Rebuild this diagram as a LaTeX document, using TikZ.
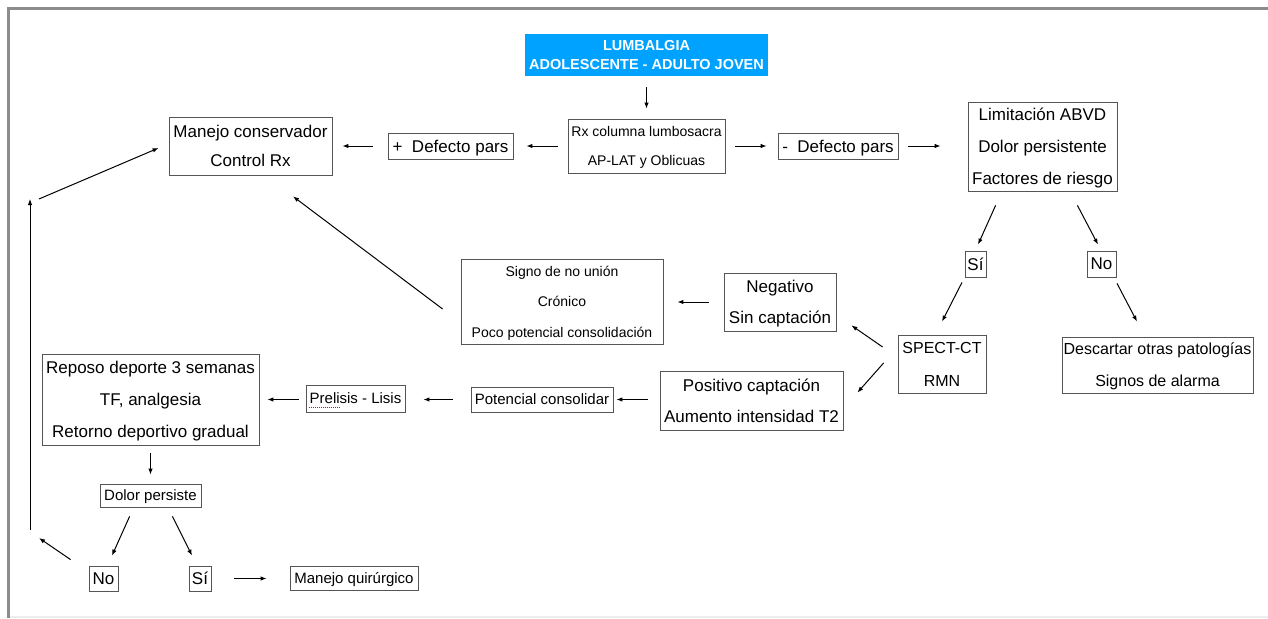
\documentclass[tikz,border=0pt]{standalone}
\usepackage{fontspec}
\setmainfont{Liberation Sans}
\usetikzlibrary{arrows.meta,calc}
\definecolor{titleblue}{RGB}{0,162,255}
\definecolor{boxgray}{RGB}{85,85,85}
\definecolor{framegray}{RGB}{140,140,140}
\newcommand{\fsz}[2]{\fontsize{#1}{#2}\selectfont}
\begin{document}
\begin{tikzpicture}[x=1pt,y=-1pt,
  box/.style={draw=boxgray, line width=0.8pt, inner sep=0pt, align=center, text=black, text depth=0pt},
  wh/.style 2 args={minimum width=#1pt, minimum height=#2pt},
  arr/.style={-{Latex[length=6pt,width=4.5pt]}, line width=1pt},
  title/.style={fill=titleblue, inner sep=0pt, align=center, text=white, text depth=0pt, font=\bfseries\fsz{14.5}{19}}
]
\useasboundingbox (0,0) rectangle (1268,618);
\fill[white] (0,0) rectangle (1268,618);
% frame
\draw[line width=1.5pt, black!7] (8,617) -- (1268,617);
\draw[line width=2.2pt, framegray] (8.5,618) -- (8.5,8.5) -- (1268,8.5);

% nodes
\node[title, wh={243}{42}] (title) at (646.5,55) {LUMBALGIA\\ADOLESCENTE - ADULTO JOVEN};
\node[box, wh={157}{54}, font=\fsz{14}{29}] (rx) at (646.5,146) {Rx columna lumbosacra\\AP-LAT y Oblicuas};
\node[box, wh={125}{26}, font=\fsz{17}{20}] (pdef) at (450.5,146) {+\ \ Defecto pars};
\node[box, wh={120}{26}, font=\fsz{17}{20}] (mdef) at (838,146) {-\ \ Defecto pars};
\node[box, wh={163}{58}, font=\fsz{17}{29}] (manejo) at (250.5,146) {Manejo conservador\\Control Rx};
\node[box, wh={149}{89}, font=\fsz{17}{32}] (lim) at (1042.5,146.5) {Limitación ABVD\\Dolor persistente\\Factores de riesgo};
\node[box, wh={21}{26}, font=\fsz{17}{20}] (si1) at (975.5,264) {Sí};
\node[box, wh={29}{26}, font=\fsz{17}{20}] (no1) at (1101.5,264) {No};
\node[box, wh={88}{58}, font=\fsz{16}{33}] (spect) at (942,364) {SPECT-CT\\RMN};
\node[box, wh={191}{56}, font=\fsz{16}{32}] (desc) at (1157.5,365) {Descartar otras patologías\\Signos de alarma};
\node[box, wh={112}{58}, font=\fsz{17}{31}] (neg) at (780,302) {Negativo\\Sin captación};
\node[box, wh={202}{85}, font=\fsz{14}{30.5}] (signo) at (562,301.5) {Signo de no unión\\Crónico\\Poco potencial consolidación};
\node[box, wh={183}{59}, font=\fsz{17}{31}] (pos) at (751.5,400.5) {Positivo captación\\Aumento intensidad T2};
\node[box, wh={142}{25}, font=\fsz{15}{18}] (potc) at (542,399.5) {Potencial consolidar};
\node[box, wh={99}{27}, font=\fsz{15}{18}] (prel) at (355.5,398.5) {Prelisis - Lisis};
\node[box, wh={217}{91}, font=\fsz{17}{32}] (reposo) at (150.5,399.5) {Reposo deporte 3 semanas\\TF, analgesia\\Retorno deportivo gradual};
\node[box, wh={101}{23}, font=\fsz{15}{18}] (dolor) at (150.5,495.5) {Dolor persiste};
\node[box, wh={29}{25}, font=\fsz{17}{20}] (no2) at (103.5,578.5) {No};
\node[box, wh={22}{25}, font=\fsz{17}{20}] (si2) at (200,578.5) {Sí};
\node[box, wh={128}{24}, font=\fsz{15}{18}] (mq) at (354,578) {Manejo quirúrgico};

% spell-check underline
\draw[red, line width=0.7pt, dash pattern=on 1pt off 1pt] ($(prel.south west)+(3,-5)$) -- ++(32,0);

% free coordinates
\coordinate (c1) at (39,538);
\coordinate (c2) at (30,530);
\coordinate (c3) at (30,199);
\coordinate (c4) at (39,199);

% connectors
\draw[arr, shorten <=11pt, shorten >=10pt] (title.south) -- (rx.north);
\draw[arr, shorten <=10pt, shorten >=13pt] (rx.west) -- (pdef.east);
\draw[arr, shorten <=15pt, shorten >=10pt] (pdef.west) -- (manejo.east |- pdef.west);
\draw[arr, shorten <=10pt, shorten >=11pt] (rx.east) -- (mdef.west);
\draw[arr, shorten <=10pt, shorten >=27pt] (mdef.east) -- (lim.west |- mdef.east);
\draw[arr] ($(lim.south west)+(28,14)$) -- ($(si1.north)+(2.5,-6)$);
\draw[arr] ($(lim.south east)+(-40,14)$) -- ($(no1.north)+(-3.5,-6)$);
\draw[arr] ($(si1.south)+(-13.5,5)$) -- ($(spect.north)+(0,-13)$);
\draw[arr] ($(no1.south)+(15.5,6)$) -- ($(desc.north)+(-20.5,-15)$);
\draw[arr] ($(spect.west)+(-15,-17)$) -- ($(neg.south east)+(15,-6)$);
\draw[arr] ($(spect.west)+(-14,-1)$) -- ($(pos.north east)+(14,22)$);
\draw[arr, shorten <=15pt, shorten >=14pt] (neg.west) -- (signo.east |- neg.west);
\draw[arr] ($(signo.west)+(-18,7.5)$) -- ($(manejo.south)+(42.5,21)$);
\draw[arr, shorten <=12pt, shorten >=3pt] (pos.west |- potc.east) -- (potc.east);
\draw[arr, shorten <=18pt, shorten >=18pt] (potc.west) -- (prel.east |- potc.west);
\draw[arr, shorten <=7pt, shorten >=8pt] (prel.west |- potc.west) -- (reposo.east |- potc.west);
\draw[arr, shorten <=8pt, shorten >=9pt] (reposo.south) -- (dolor.north);
\draw[arr] ($(dolor.south west)+(30,9)$) -- ($(no2.north)+(8.5,-10)$);
\draw[arr] ($(dolor.south east)+(-29,9)$) -- ($(si2.north)+(-8,-10)$);
\draw[arr, shorten <=23pt, shorten >=23pt] (si2.east) -- (mq.west |- si2.east);
\draw[arr] ($(no2.north west)+(-18,-6)$) -- (c1);
\draw[arr] (c2) -- (c3);
\draw[arr] (c4) -- ($(manejo.west)+(-10,2)$);
\end{tikzpicture}
\end{document}
